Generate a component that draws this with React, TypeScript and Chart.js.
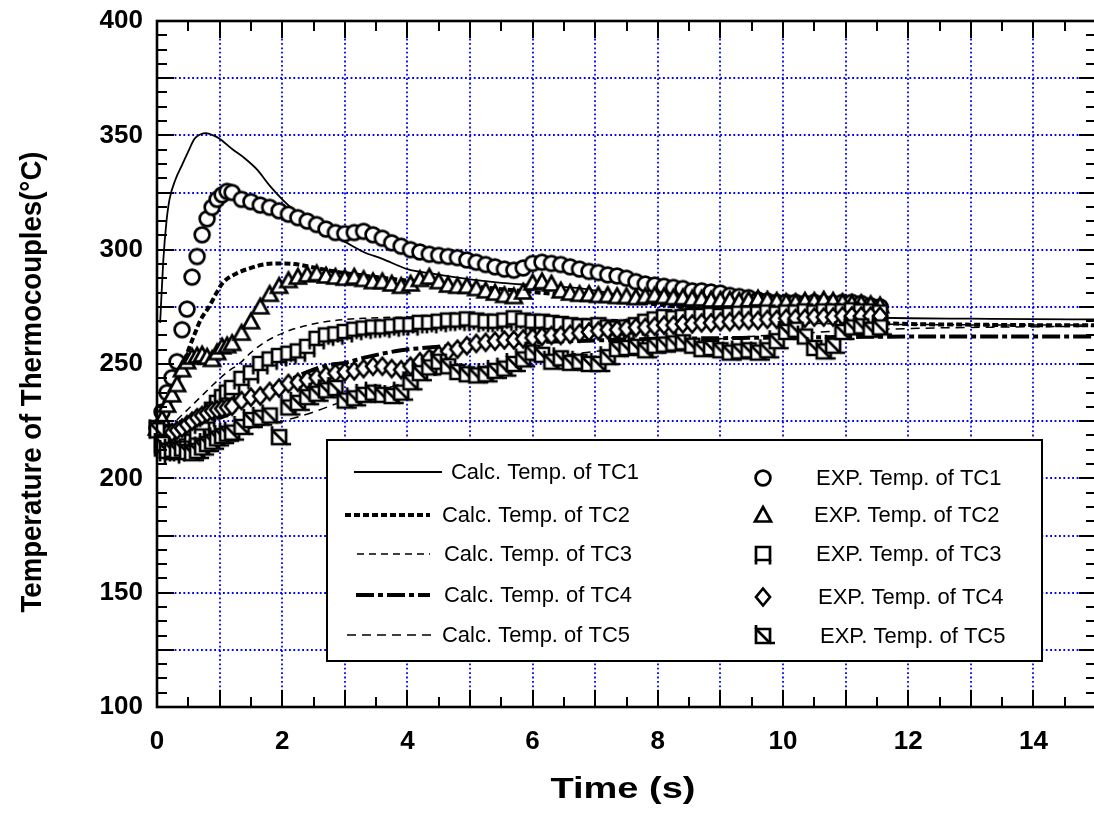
import React, { useEffect, useRef } from 'react';
import { Chart, registerables } from 'chart.js';

Chart.register(...registerables);

const FONT = '"Liberation Sans", Arial, Helvetica, sans-serif';
const CANVAS_W = 1105;

// ---------- tick labels ----------
const xTickLabels = ['0', '2', '4', '6', '8', '10', '12', '14'];
const yTickLabels = ['100', '150', '200', '250', '300', '350', '400'];

// ---------- calculated curves ----------
const calcTimeTC1 = [0.05, 0.1, 0.15, 0.2, 0.3, 0.4, 0.5, 0.6, 0.7, 0.78, 0.9, 1.0, 1.2, 1.4, 1.6, 1.8, 2.0, 2.2, 2.4, 2.6, 2.8, 3.0, 3.3, 3.6, 4.0, 4.4, 5.0, 5.5, 6.0, 6.8, 7.5, 8.2, 9, 10, 11, 12, 13, 14, 15];
const calcTC1 = [268, 295, 312, 322, 331, 337, 343, 348.5, 350.5, 351, 350, 348.5, 344, 340, 335, 328, 322, 317, 313, 309.5, 306.5, 303.5, 299, 296, 291.5, 289.5, 287, 285.5, 284.5, 283, 279.5, 276, 273.5, 271.5, 270.5, 270, 269.8, 269.6, 269.5];

const calcTimeTC2 = [0.05, 0.15, 0.25, 0.34, 0.5, 0.6, 0.7, 0.82, 0.95, 1.05, 1.27, 1.5, 1.7, 2.0, 2.2, 2.45, 2.87, 3.5, 4, 5, 6, 7, 8, 9, 10, 11, 12, 13, 14, 15];
const calcTC2 = [222, 228, 236, 243, 256, 263, 269.5, 274.5, 281, 285.5, 289.6, 292, 293.5, 294, 293.7, 292.5, 290.3, 288, 286.5, 284, 281.5, 279, 276, 273, 270.5, 268.5, 267.5, 267.2, 267, 267];

const calcTimeTC3 = [0.05, 0.3, 0.6, 0.9, 1.1, 1.33, 1.5, 1.75, 2.1, 2.55, 2.9, 3.3, 4, 5, 6, 7, 8, 9, 10, 11, 12, 13, 15];
const calcTC3 = [218, 225, 233, 241, 246, 250.5, 255, 260, 264.5, 267.8, 269.2, 270, 270.5, 270.5, 270, 269.5, 269, 268.5, 268, 267.5, 267.3, 267.1, 267];

const calcTimeTC4 = [0.05, 0.3, 0.6, 0.9, 1.1, 1.4, 1.73, 2.0, 2.4, 2.7, 3.0, 3.35, 3.9, 4.5, 5, 6, 7, 8, 9, 10, 11, 12, 15];
const calcTC4 = [219, 220.5, 222.5, 225.5, 227.5, 232.5, 238, 241.5, 246.5, 249.3, 250.5, 253, 256, 257.5, 258.5, 259.5, 260.3, 261, 261.3, 261.6, 261.8, 262, 262];

const calcTimeTC5 = [0.05, 0.5, 1.0, 1.5, 2.0, 2.5, 3, 3.5, 4, 4.5, 5, 6, 7, 8, 9, 10, 11, 12, 13, 15];
const calcTC5 = [210, 213, 218, 222, 225, 229, 234, 238, 242, 245.5, 248, 252, 255.5, 258.5, 261, 263, 264.5, 265.5, 266, 266.5];

// ---------- experimental data ----------
const expTime = [
  0, 0.08, 0.16, 0.24, 0.32, 0.4, 0.48, 0.56, 0.64, 0.72, 0.8, 0.88, 0.96, 1.04, 1.12, 1.2,
  1.35, 1.5, 1.65, 1.8, 1.95, 2.1, 2.25, 2.4, 2.55, 2.7,
  2.85, 3.0, 3.15, 3.3, 3.45, 3.6, 3.75, 3.9, 4.05, 4.2,
  4.35, 4.5, 4.65, 4.8, 4.95, 5.1, 5.25, 5.4, 5.55, 5.7,
  5.85, 6.0, 6.15, 6.3, 6.45, 6.6, 6.75, 6.9, 7.05, 7.2,
  7.35, 7.5, 7.65, 7.8, 7.95, 8.1, 8.25, 8.4, 8.55, 8.7,
  8.85, 9.0, 9.15, 9.3, 9.45, 9.6, 9.75, 9.9, 10.05, 10.2,
  10.35, 10.5, 10.65, 10.8, 10.95, 11.1, 11.25, 11.4, 11.55,
];

const expTC1 = [
  222, 229, 237.5, 244, 251, 265, 274, 288, 297, 306.5, 313.5, 318.5, 322, 324, 325.5, 325,
  322, 321, 319.5, 318.5, 317, 315.5, 314, 312.5, 311, 309,
  307.5, 307, 307.5, 308, 306.5, 305, 303, 301.5, 300, 299,
  298, 297.5, 297, 296.5, 295.5, 294.5, 293.5, 292.5, 291.5, 291,
  292, 294, 294.5, 294, 293.5, 292.5, 291.5, 290.5, 290, 289,
  288.5, 287.5, 286, 285, 284.5, 284, 283.5, 283, 282, 282,
  281.5, 281, 280, 279.5, 279, 278, 277.5, 277, 277, 277,
  276.5, 277, 276.5, 276.5, 277, 277, 276.5, 275.5, 275,
];

const expTC2 = [
  222, 226, 232, 236.5, 241, 247.5, 251, 253, 253.5, 254, 253, 252, 255, 257.5, 258, 259,
  263.5, 268.5, 275, 280.5, 284, 286.5, 288, 289, 289.5, 288.5,
  288, 287.5, 288, 287, 286, 286, 285, 284, 285, 287,
  288, 286, 284.5, 284, 284, 283, 282, 281, 280, 279.5,
  281.5, 285.5, 286, 285, 282, 281, 280.5, 280.5, 280, 280,
  279.5, 279.5, 279, 279.5, 280, 279.5, 279, 279, 278.5, 278.5,
  278, 278, 278, 277.5, 278, 278.5, 278, 277.5, 277, 277,
  277.5, 277.5, 278, 277.5, 277, 276.5, 276.5, 276, 275.5,
];

const expTC3 = [
  222, 214, 212, 211, 212, 213, 214, 216, 220, 224, 227, 230, 233, 235.5, 237.5, 239.5,
  243.5, 246, 250, 252, 253.5, 254.5, 255.5, 257.5, 261, 262.5,
  263, 264, 265, 265.5, 266, 266, 266.5, 267, 267, 268,
  268, 268.5, 269, 269, 269.5, 269, 268.5, 268.5, 269, 270,
  269, 268.5, 268.5, 268, 267.5, 267, 266.5, 266.5, 267, 266,
  265.5, 266, 267, 268.5, 269.5, 270.5, 270, 270.5, 271, 271,
  271.5, 271, 271.5, 272, 272, 272, 272.5, 272, 272.5, 272.5,
  273, 272.5, 273, 273, 273, 273.5, 273, 273, 272.5,
];

const expTC4 = [
  222, 220, 219.5, 220, 221, 222, 223.5, 225, 226.5, 227.5, 228.5, 229.5, 230, 230.5, 231, 231.5,
  234, 235.5, 236, 238, 239.5, 241.5, 242, 243, 244, 245,
  246, 246.5, 247, 248, 249, 249, 248, 247.5, 249, 251,
  252.5, 254, 255.5, 256.5, 258, 259, 259.5, 260, 260.5, 260.5,
  261, 261.5, 262, 262.5, 262.5, 263, 263.5, 264, 264.5, 265,
  265, 265.5, 266, 266, 266.5, 267, 267, 267.5, 267.5, 268,
  268, 268.5, 268.5, 269, 269, 269, 269.5, 269.5, 270, 270,
  270, 270.5, 270.5, 270.5, 271, 271, 271, 271, 271,
];

const expTC5 = [
  221, 215, 212, 212.5, 212, 213, 211.5, 211, 212, 213.5, 215, 216, 217.5, 218.5, 219.5, 220,
  222.5, 225.5, 226.5, 227.5, 218, 231, 233, 235.5, 237, 238.5,
  239.5, 234, 235, 236.5, 237.5, 236.5, 236, 237.5, 242, 246,
  248.5, 251, 249, 246.5, 245.5, 245, 245.5, 247, 248, 250,
  252, 255, 254, 251, 252.5, 250.5, 251, 250, 250, 253,
  256.5, 257, 257.5, 256, 258, 258.5, 259, 259.5, 258, 256.5,
  257, 256, 255, 255.5, 256, 255, 256, 260, 264, 265,
  262, 257, 255.5, 258, 264, 266, 266.5, 265, 266,
];

const calcLabels = ['Calc. Temp. of TC1', 'Calc. Temp. of TC2', 'Calc. Temp. of TC3', 'Calc. Temp. of TC4', 'Calc. Temp. of TC5'];
const expLabels = ['EXP. Temp. of TC1', 'EXP. Temp. of TC2', 'EXP. Temp. of TC3', 'EXP. Temp. of TC4', 'EXP. Temp. of TC5'];
const xTitle = 'Time (s)';
const yTitle = 'Temperature of Thermocouples(°C)';

// ---------- styles ----------
const lineStyles = [
  { width: 1.8, dash: [] as number[] },
  { width: 4, dash: [6, 3] },
  { width: 1.5, dash: [7, 5] },
  { width: 4, dash: [18, 4, 5, 4] },
  { width: 1.5, dash: [9, 6] },
];
const markerKinds = ['circle', 'triangle', 'squareLegs', 'diamond', 'squareCross'];

function makeMarker(kind: string): HTMLCanvasElement {
  const c = document.createElement('canvas');
  c.width = 28;
  c.height = 28;
  const g = c.getContext('2d')!;
  g.lineWidth = 2.7;
  g.strokeStyle = '#000';
  g.fillStyle = '#fff';
  g.beginPath();
  if (kind === 'circle') {
    g.arc(14, 14, 7.4, 0, Math.PI * 2);
    g.fill();
    g.stroke();
  } else if (kind === 'triangle') {
    g.moveTo(14, 6);
    g.lineTo(22, 20.5);
    g.lineTo(6, 20.5);
    g.closePath();
    g.fill();
    g.stroke();
  } else if (kind === 'squareLegs') {
    g.rect(7, 7, 14, 13);
    g.fill();
    g.stroke();
    g.beginPath();
    g.moveTo(7, 20);
    g.lineTo(7, 24.5);
    g.moveTo(21, 20);
    g.lineTo(21, 24.5);
    g.stroke();
  } else if (kind === 'diamond') {
    g.moveTo(14, 5.5);
    g.lineTo(21, 14);
    g.lineTo(14, 22.5);
    g.lineTo(7, 14);
    g.closePath();
    g.fill();
    g.stroke();
  } else {
    g.rect(7, 7, 14, 14);
    g.fill();
    g.stroke();
    g.beginPath();
    g.moveTo(7, 7);
    g.lineTo(21, 21);
    g.moveTo(7, 3);
    g.lineTo(7, 7);
    g.moveTo(21, 21);
    g.lineTo(26, 21);
    g.stroke();
  }
  return c;
}

function pairs(xs: number[], ys: number[]) {
  return ys.map((y, i) => ({ x: xs[i], y }));
}

function stretchedText(ctx: CanvasRenderingContext2D, text: string, cx: number, baseline: number, width: number) {
  const w = ctx.measureText(text).width;
  ctx.save();
  ctx.translate(cx, baseline);
  ctx.scale(width / w, 1);
  ctx.textAlign = 'center';
  ctx.textBaseline = 'alphabetic';
  ctx.fillText(text, 0, 0);
  ctx.restore();
}

export default function App() {
  const ref = useRef<HTMLCanvasElement>(null);

  useEffect(() => {
    const canvas = ref.current!;
    const markers = markerKinds.map(makeMarker);

    const calcSeries = [
      pairs(calcTimeTC1, calcTC1),
      pairs(calcTimeTC2, calcTC2),
      pairs(calcTimeTC3, calcTC3),
      pairs(calcTimeTC4, calcTC4),
      pairs(calcTimeTC5, calcTC5),
    ];
    const expSeries = [expTC1, expTC2, expTC3, expTC4, expTC5].map((v) => pairs(expTime, v));

    const datasets: any[] = [];
    calcSeries.forEach((d, i) => {
      datasets.push({
        label: calcLabels[i],
        data: d,
        showLine: true,
        borderColor: '#000',
        backgroundColor: '#000',
        borderWidth: lineStyles[i].width,
        borderDash: lineStyles[i].dash,
        pointRadius: 0,
        cubicInterpolationMode: 'monotone',
        clip: false,
        order: 20 + i,
      });
    });
    expSeries.forEach((d, i) => {
      datasets.push({
        label: expLabels[i],
        data: d,
        showLine: false,
        pointStyle: markers[i],
        pointRadius: 8,
        borderColor: '#000',
        backgroundColor: '#fff',
        clip: false,
        order: 10 - i,
      });
    });

    const ticksFont = { family: FONT, size: 26, weight: 'bold' as const };

    const framePlugin = {
      id: 'frame',
      beforeDatasetsDraw(chart: any) {
        const { ctx, chartArea: a, scales } = chart;
        const x = scales.x;
        const y = scales.y;
        ctx.save();
        ctx.strokeStyle = '#0000ff';
        ctx.lineWidth = 1.8;
        ctx.setLineDash([1.8, 2.6]);
        x.ticks.forEach((t: any) => {
          if (t.value > x.min && t.value < x.max) {
            const px = Math.round(x.getPixelForValue(t.value));
            ctx.beginPath();
            ctx.moveTo(px, a.top);
            ctx.lineTo(px, a.bottom);
            ctx.stroke();
          }
        });
        y.ticks.forEach((t: any) => {
          if (t.value > y.min && t.value < y.max) {
            const py = Math.round(y.getPixelForValue(t.value));
            ctx.beginPath();
            ctx.moveTo(a.left, py);
            ctx.lineTo(a.right, py);
            ctx.stroke();
          }
        });
        ctx.restore();
      },
      afterDatasetsDraw(chart: any) {
        const { ctx, chartArea: a, scales } = chart;
        const x = scales.x;
        const y = scales.y;
        ctx.save();
        ctx.setLineDash([]);
        ctx.strokeStyle = '#000';
        ctx.fillStyle = '#000';

        // inner ticks on all four sides
        ctx.lineWidth = 2;
        for (let i = 0; i <= 30; i++) {
          const v = x.min + i * 0.5;
          const px = Math.round(x.getPixelForValue(v));
          const len = i % 2 === 0 ? 17 : 10;
          ctx.beginPath();
          ctx.moveTo(px, a.bottom);
          ctx.lineTo(px, a.bottom - len);
          ctx.moveTo(px, a.top);
          ctx.lineTo(px, a.top + len);
          ctx.stroke();
        }
        for (let i = 0; i <= 48; i++) {
          const v = y.min + i * 6.25;
          const py = Math.round(y.getPixelForValue(v));
          const len = i % 4 === 0 ? 17 : 10;
          ctx.beginPath();
          ctx.moveTo(a.left, py);
          ctx.lineTo(a.left + len, py);
          ctx.moveTo(a.right, py);
          ctx.lineTo(a.right - len, py);
          ctx.stroke();
        }
        // frame
        ctx.lineWidth = 2.6;
        ctx.strokeRect(a.left, a.top, a.right - a.left, a.bottom - a.top);

        // legend box
        const bx = 327, by = 440, bw = 715, bh = 221;
        ctx.fillStyle = '#fff';
        ctx.fillRect(bx, by, bw, bh);
        ctx.lineWidth = 2;
        ctx.strokeRect(bx, by, bw, bh);

        const rowY = [472, 515, 554, 595, 635];
        const lineX = [[354, 442], [345, 430], [357, 430], [356, 430], [347, 435]];
        const textX = [451, 442, 444, 444, 442];
        const expRowY = [478, 515, 554, 597, 636];
        const expTextX = [816, 814, 816, 818, 820];

        ctx.fillStyle = '#000';
        ctx.font = `22px ${FONT}`;
        ctx.textBaseline = 'middle';
        ctx.textAlign = 'left';
        for (let i = 0; i < 5; i++) {
          ctx.save();
          ctx.lineWidth = lineStyles[i].width;
          ctx.setLineDash(lineStyles[i].dash);
          ctx.beginPath();
          ctx.moveTo(lineX[i][0], rowY[i]);
          ctx.lineTo(lineX[i][1], rowY[i]);
          ctx.stroke();
          ctx.restore();
          ctx.fillText(calcLabels[i], textX[i], rowY[i] + 1, 188);
          const m = markers[i];
          ctx.drawImage(m, 763 - m.width / 2, expRowY[i] - m.height / 2);
          ctx.fillText(expLabels[i], expTextX[i], expRowY[i] + 1, 190);
        }

        // axis titles
        ctx.font = `bold 29px ${FONT}`;
        stretchedText(ctx, xTitle, 623, 798, 145);

        ctx.save();
        ctx.translate(41, 382);
        ctx.rotate(-Math.PI / 2);
        ctx.font = `bold 30px ${FONT}`;
        ctx.textAlign = 'center';
        ctx.textBaseline = 'alphabetic';
        ctx.fillText(yTitle, 0, 0, 461);
        ctx.restore();

        ctx.restore();
      },
    };

    const chart = new Chart(canvas, {
      type: 'scatter',
      data: { datasets },
      options: {
        animation: false,
        responsive: false,
        maintainAspectRatio: false,
        devicePixelRatio: 1,
        events: [],
        layout: { padding: { top: 21, right: 0, left: 0, bottom: 0 } },
        plugins: { legend: { display: false }, tooltip: { enabled: false }, title: { display: false } },
        scales: {
          x: {
            type: 'linear',
            min: 0,
            max: 15,
            afterFit: (s: any) => {
              s.height = 128;
              s.paddingLeft = 0;
              s.paddingRight = 0;
            },
            grid: { display: false, drawTicks: false },
            border: { display: false },
            ticks: {
              stepSize: 1,
              maxTicksLimit: 100,
              autoSkip: false,
              maxRotation: 0,
              minRotation: 0,
              padding: 19,
              color: '#000',
              font: ticksFont,
              callback: (v: any) => {
                const s = String(v);
                return xTickLabels.includes(s) ? s : '';
              },
            },
          },
          y: {
            type: 'linear',
            min: 100,
            max: 400,
            afterFit: (s: any) => {
              s.width = 157;
              s.paddingTop = 0;
              s.paddingBottom = 0;
            },
            grid: { display: false, drawTicks: false },
            border: { display: false },
            ticks: {
              stepSize: 25,
              maxTicksLimit: 100,
              autoSkip: false,
              padding: 14,
              color: '#000',
              font: ticksFont,
              callback: (v: any) => {
                const s = String(v);
                return yTickLabels.includes(s) ? s : '';
              },
            },
          },
        },
      } as any,
      plugins: [framePlugin],
    });

    return () => chart.destroy();
  }, []);

  return (
    <div
      style={{
        position: 'fixed',
        left: 0,
        top: 0,
        width: 1094,
        height: 835,
        overflow: 'hidden',
        background: '#fff',
      }}
    >
      <canvas ref={ref} width={CANVAS_W} height={835} style={{ display: 'block', width: CANVAS_W, height: 835 }} />
    </div>
  );
}
